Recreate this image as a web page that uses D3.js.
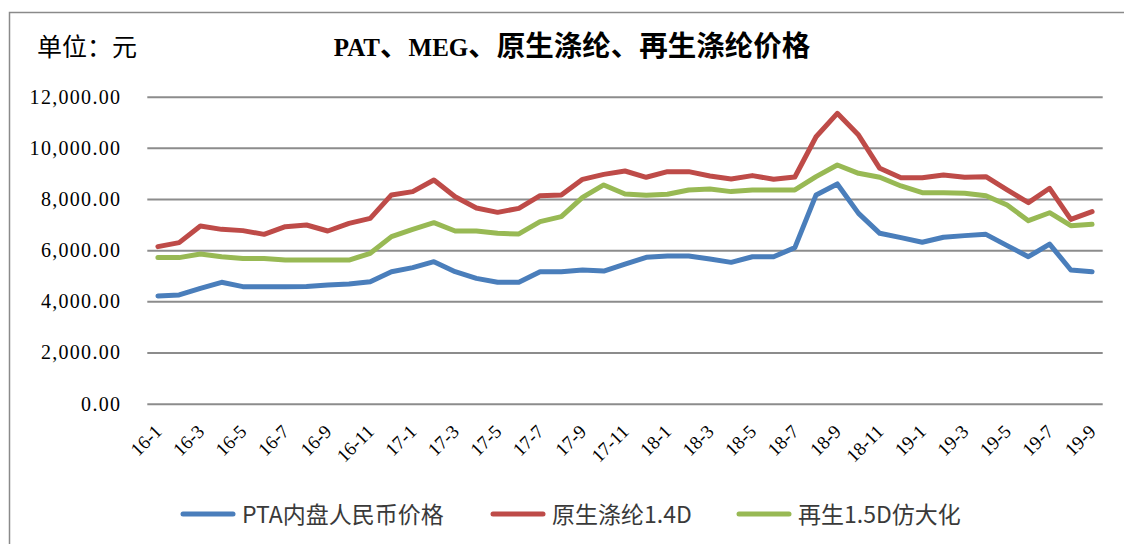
<!DOCTYPE html>
<html><head><meta charset="utf-8">
<script src="https://cdn.jsdelivr.net/npm/d3@7"></script>
<style>
html,body{margin:0;padding:0;background:#fff;}
svg{display:block;}
</style></head>
<body>
<svg id="chart" width="1124" height="544"></svg>
<script>
const months = [];
for (const yy of [16,17,18,19]) for (let m=1; m<=12; m++) { if (yy===19 && m>9) break; months.push(yy+"-"+m); }
const tickLabels = months.filter((d,i)=> i%2===0);
const yTicks = [0,2000,4000,6000,8000,10000,12000];
const seriesNames = ["PTA内盘人民币价格","原生涤纶1.4D","再生1.5D仿大化"];
const ptaValues = [4210,4250,4510,4745,4575,4575,4575,4580,4640,4680,
  4770,5160,5320,5550,5160,4900,4745,4745,5160,5160,
  5225,5185,5460,5720,5775,5775,5655,5525,5745,5745,
  6100,8160,8590,7440,6660,6490,6310,6505,6570,6620,
  6180,5745,6240,5225,5160];
const virginValues = [6140,6295,6945,6815,6765,6620,6920,6985,6750,7050,
  7245,8160,8290,8745,8090,7650,7480,7635,8130,8160,
  8770,8965,9095,8850,9070,9070,8900,8785,8915,8770,
  8860,10435,11350,10500,9200,8835,8835,8940,8850,8875,
  8355,7860,8420,7205,7505];
const recycledValues = [5710,5710,5850,5745,5680,5680,5615,5615,5615,5615,
  5880,6530,6815,7075,6750,6750,6660,6635,7115,7310,
  8065,8550,8195,8145,8185,8355,8390,8290,8355,8355,
  8355,8875,9330,9005,8850,8510,8250,8250,8225,8130,
  7765,7155,7465,6960,7010];
const colors = ["#4a7ebb","#be4b48","#98b954"];
const series = [ptaValues, virginValues, recycledValues];

const svg = d3.select("#chart");
const pLeft = 147.3, pRight = 1102.7, pTop = 96.7, pBottom = 403.7;
const x = d3.scaleBand().domain(months).range([pLeft,pRight]);
const y = d3.scaleLinear().domain([0,12000]).range([pBottom,pTop]);

// outer border
svg.append("path").attr("d","M9.5,544 L9.5,12.5 L1124,12.5")
  .attr("fill","none").attr("stroke","#8a8a8a").attr("stroke-width",1.5);

// y axis + gridlines
const ya = svg.append("g").attr("transform",`translate(${pLeft},0)`)
  .call(d3.axisLeft(y).tickValues(yTicks).tickFormat(d3.format(",.2f"))
    .tickSize(-(pRight-pLeft)).tickPadding(26));
ya.select(".domain").remove();
ya.selectAll(".tick line").attr("stroke","#8c8c8c").attr("stroke-width",2);
ya.selectAll(".tick text").attr("font-family","'Liberation Serif', serif")
  .attr("font-size",20).attr("letter-spacing","1.3px").attr("fill","#000");

// x axis labels
const xa = svg.append("g").attr("transform",`translate(0,${pBottom})`)
  .call(d3.axisBottom(x).tickValues(tickLabels).tickSize(0).tickPadding(0));
xa.select(".domain").remove();
xa.selectAll(".tick text")
  .attr("font-family","'Liberation Serif', serif").attr("font-size",19).attr("fill","#000")
  .attr("text-anchor","end").attr("dy",0).attr("y",0)
  .attr("transform","translate(5,29) rotate(-45)");

// lines
const line = d3.line().x((d,i)=>x(months[i])+x.bandwidth()/2).y(d=>y(d));
series.forEach((s,k)=>{
  svg.append("path").datum(s).attr("d",line).attr("fill","none")
    .attr("stroke",colors[k]).attr("stroke-width",5)
    .attr("stroke-linejoin","round").attr("stroke-linecap","round");
});

// title
const title = svg.append("text").attr("x",572).attr("y",56).attr("text-anchor","middle")
  .attr("font-weight","bold").attr("fill","#000");
const pieces = [["PAT","L"],["、","C"],["MEG","L"],["、原生涤纶、再生涤纶价格","C"]];
pieces.forEach(p=>{
  title.append("tspan").text(p[0])
    .attr("font-family", p[1]==="L" ? "'Liberation Serif', serif" : "'Noto Sans CJK SC', sans-serif")
    .attr("font-size", p[1]==="L" ? 25 : 28.5);
});

// unit label
svg.append("text").attr("x",37).attr("y",56).text("单位：元")
  .attr("font-family","'Noto Sans CJK SC', sans-serif").attr("font-size",25).attr("fill","#000");

// legend
const legendX = [183, 493, 739];
seriesNames.forEach((n,k)=>{
  svg.append("line").attr("x1",legendX[k]).attr("x2",legendX[k]+50)
    .attr("y1",514).attr("y2",514).attr("stroke",colors[k]).attr("stroke-width",5)
    .attr("stroke-linecap","round");
  svg.append("text").attr("x",legendX[k]+59).attr("y",523).text(n)
    .attr("font-family","'Noto Sans CJK SC', sans-serif").attr("font-size",23).attr("fill","#3a3a3a");
});
</script>
</body></html>
